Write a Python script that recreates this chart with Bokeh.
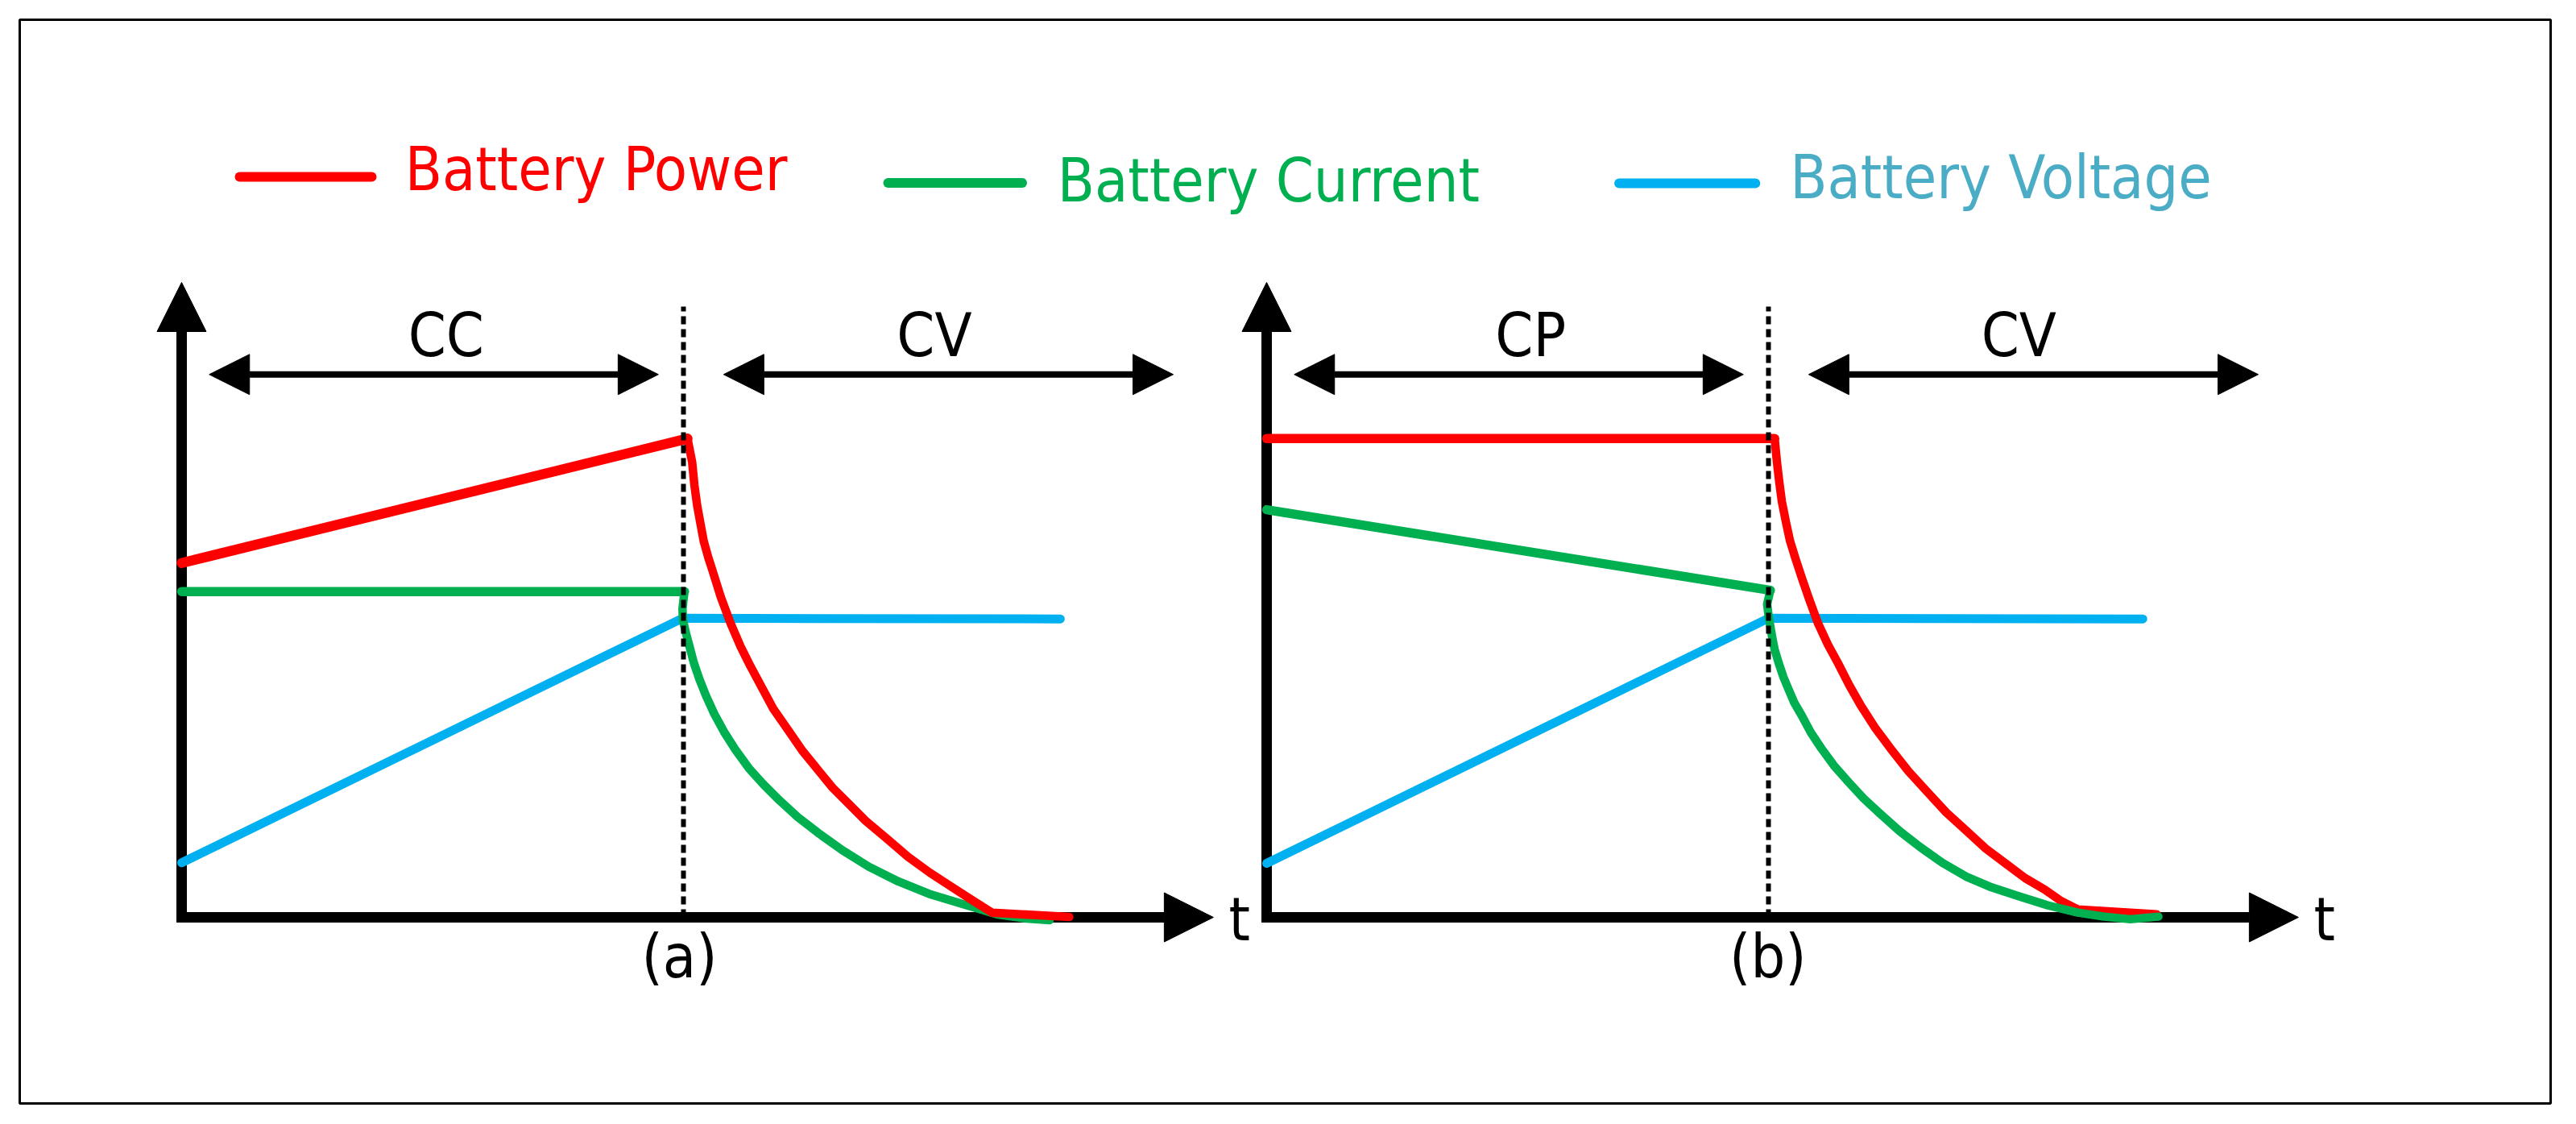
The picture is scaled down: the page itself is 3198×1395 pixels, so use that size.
from bokeh.plotting import figure
from bokeh.models import Range1d, Arrow, NormalHead
from bokeh.core.properties import value
from bokeh.embed import file_html
from bokeh.resources import INLINE

# ---------------- data (time units, value units) ----------------
# Panel (a): CC-CV charging
a_power_cc_t = [0.0, 10.08]
a_power_cc_v = [55.8, 75.4]
a_power_cv_t = [10.08, 10.173, 10.218, 10.271, 10.318, 10.403, 10.494, 10.579, 10.743, 10.939,
                11.136, 11.332, 11.562, 11.791, 12.087, 12.381, 12.676, 12.971, 13.299, 13.626,
                14.051, 14.477, 14.904, 15.329, 15.754, 16.148, 16.966, 17.687]
a_power_cv_v = [75.4, 71.69, 68.07, 64.96, 62.89, 59.26, 56.68, 54.60, 50.46, 46.31,
                42.69, 39.58, 36.21, 32.84, 29.48, 26.12, 23.26, 20.42, 17.82, 15.23,
                12.39, 9.53, 7.06, 4.87, 2.70, 0.74, 0.37, 0.05]
a_current_cc_t = [0.0, 10.02]
a_current_cc_v = [51.3, 51.3]
a_current_cv_t = [10.02, 9.98, 9.99, 10.05, 10.12, 10.206, 10.318, 10.448, 10.612, 10.809,
                  11.038, 11.30, 11.594, 11.923, 12.283, 12.708, 13.167, 13.692, 14.281, 14.936,
                  15.591, 16.246, 16.836, 17.294]
a_current_cv_v = [51.3, 48.6, 46.8, 44.76, 42.69, 40.1, 37.5, 34.91, 32.07, 29.21,
                  26.37, 23.52, 20.94, 18.34, 15.75, 13.16, 10.57, 7.98, 5.65, 3.58,
                  2.03, 0.47, -0.2, -0.46]
a_voltage_t = [0.0, 9.98, 17.51]
a_voltage_v = [8.6, 47.1, 47.0]

# Panel (b): CP-CV charging
b_power_cc_t = [0.0, 10.123]
b_power_cc_v = [75.4, 75.4]
b_power_cv_t = [10.123, 10.169, 10.215, 10.267, 10.345, 10.43, 10.542, 10.66, 10.823, 10.987,
                11.184, 11.381, 11.61, 11.84, 12.135, 12.429, 12.79, 13.149, 13.543, 13.936,
                14.329, 14.722, 15.116, 15.509, 15.837, 16.164, 17.737]
b_power_cv_v = [75.4, 71.69, 68.58, 65.48, 62.37, 59.26, 56.41, 53.57, 49.84, 46.31,
                42.95, 40.1, 36.57, 33.36, 29.73, 26.62, 23.0, 19.9, 16.52, 13.68,
                10.83, 8.5, 6.17, 4.35, 2.54, 1.24, 0.47]
b_current_cc_t = [0.0, 10.037]
b_current_cc_v = [64.2, 51.5]
b_current_cv_t = [10.037, 9.973, 10.005, 10.071, 10.123, 10.202, 10.294, 10.398, 10.516, 10.66,
                  10.844, 11.053, 11.302, 11.578, 11.893, 12.233, 12.613, 13.019, 13.464, 13.936,
                  14.446, 14.984, 15.573, 16.164, 16.687, 17.211, 17.769]
b_current_cv_v = [51.5, 49.31, 47.35, 44.24, 42.17, 40.1, 37.92, 35.95, 33.78, 31.82,
                  29.11, 26.62, 23.93, 21.45, 18.75, 16.27, 13.58, 11.09, 8.6, 6.43,
                  4.72, 3.32, 1.87, 0.74, 0.11, -0.3, 0.11]
b_voltage_t = [0.0, 10.0, 17.46]
b_voltage_v = [8.5, 47.1, 47.0]

switch_t = 10.0
legend_labels = ["Battery Power", "Battery Current", "Battery Voltage"]
phase_labels_a = ["CC", "CV"]
phase_labels_b = ["CP", "CV"]
panel_labels = ["(a)", "(b)"]
axis_label = "t"

# ---------------- styles ----------------
RED = "#FF0000"
GREEN = "#00B050"
BLUE = "#00B0F0"
BLUE_TXT = "#4BACC6"
FONT = value("DejaVu Sans Condensed")
FS = "75px"
DY = 3.3               # text baseline correction (value units)

OFF = 21.621           # horizontal offset of panel (b) in time units
T_AXIS_END = 20.56     # x-axis arrow tip
V_AXIS_END = 100.0     # y-axis arrow tip

W, H = 3182, 1379
p = figure(width=W, height=H, output_backend="svg", toolbar_location=None,
           x_range=Range1d(-3.2263, 47.207), y_range=Range1d(-29.315, 141.37),
           x_axis_location=None, y_axis_location=None,
           min_border_left=24, min_border_right=16, min_border_top=24, min_border_bottom=10)
p.grid.visible = False
p.outline_line_color = "black"
p.outline_line_width = 3
p.background_fill_color = "white"
p.border_fill_color = "white"

# ---------------- axes ----------------
for off in (0.0, OFF):
    p.add_layout(Arrow(end=NormalHead(size=61, fill_color="black", line_color="black", line_width=1),
                       x_start=off, y_start=-0.8, x_end=off, y_end=V_AXIS_END,
                       line_width=13, line_color="black", level="underlay"))
    p.add_layout(Arrow(end=NormalHead(size=61, fill_color="black", line_color="black", line_width=1),
                       x_start=off - 0.1, y_start=0, x_end=off + T_AXIS_END, y_end=0,
                       line_width=13, line_color="black", level="underlay"))

# ---------------- curves ----------------
def curve(t, v, off, color, w):
    p.line([x + off for x in t], v, line_color=color, line_width=w,
           line_cap="round", line_join="round")

# panel (a)
curve(a_voltage_t, a_voltage_v, 0.0, BLUE, 11)
curve(a_current_cc_t, a_current_cc_v, 0.0, GREEN, 11.5)
curve(a_current_cv_t, a_current_cv_v, 0.0, GREEN, 10.5)
curve(a_power_cc_t, a_power_cc_v, 0.0, RED, 12.5)
curve(a_power_cv_t, a_power_cv_v, 0.0, RED, 10.5)
# panel (b)
curve(b_voltage_t, b_voltage_v, OFF, BLUE, 11)
curve(b_power_cc_t, b_power_cc_v, OFF, RED, 11.5)
curve(b_power_cv_t, b_power_cv_v, OFF, RED, 10.5)
curve(b_current_cc_t, b_current_cc_v, OFF, GREEN, 11.5)
curve(b_current_cv_t, b_current_cv_v, OFF, GREEN, 10.5)

# switching lines
p.segment(x0=[switch_t, OFF + switch_t], y0=[0, 0], x1=[switch_t, OFF + switch_t], y1=[96.2, 96.2],
          line_color="black", line_width=6, line_dash="10 6")

# ---------------- phase arrows ----------------
for off in (0.0, OFF):
    for (xs, xe) in ((0.55, 9.5), (10.8, 19.76)):
        p.add_layout(Arrow(start=NormalHead(size=50, fill_color="black", line_color="black", line_width=1),
                           end=NormalHead(size=50, fill_color="black", line_color="black", line_width=1),
                           x_start=off + xs, y_start=85.5, x_end=off + xe, y_end=85.5,
                           line_width=8, line_color="black"))

p.text(x=[5.27, 15.0], y=[88.45 + DY] * 2, text=phase_labels_a, text_font=FONT, text_font_size=FS,
       text_align="center", text_baseline="alphabetic", text_color="black")
p.text(x=[OFF + 5.26, OFF + 14.99], y=[88.45 + DY] * 2, text=phase_labels_b, text_font=FONT,
       text_font_size=FS, text_align="center", text_baseline="alphabetic", text_color="black")

# axis / panel labels
p.text(x=[21.08, OFF + 21.08], y=[-3.64 + DY] * 2, text=[axis_label, axis_label], text_font=FONT,
       text_font_size=FS, text_align="center", text_baseline="alphabetic", text_color="black")
p.text(x=[9.92, OFF + 9.99], y=[-9.45 + DY] * 2, text=panel_labels, text_font=FONT,
       text_font_size=FS, text_align="center", text_baseline="alphabetic", text_color="black")

# ---------------- legend ----------------
p.segment(x0=[1.156], y0=[116.62], x1=[3.788], y1=[116.62], line_color=RED, line_width=12, line_cap="round")
p.segment(x0=[14.077], y0=[115.67], x1=[16.75], y1=[115.67], line_color=GREEN, line_width=12, line_cap="round")
p.segment(x0=[28.645], y0=[115.61], x1=[31.36], y1=[115.61], line_color=BLUE, line_width=12, line_cap="round")
p.text(x=[4.45], y=[114.59 + DY], text=[legend_labels[0]], text_font=FONT, text_font_size=FS,
       text_align="left", text_baseline="alphabetic", text_color=RED)
p.text(x=[17.45], y=[112.78 + DY], text=[legend_labels[1]], text_font=FONT, text_font_size=FS,
       text_align="left", text_baseline="alphabetic", text_color=GREEN)
p.text(x=[32.05], y=[113.32 + DY], text=[legend_labels[2]], text_font=FONT, text_font_size=FS,
       text_align="left", text_baseline="alphabetic", text_color=BLUE_TXT)

open("out.html", "w").write(file_html(p, INLINE))
